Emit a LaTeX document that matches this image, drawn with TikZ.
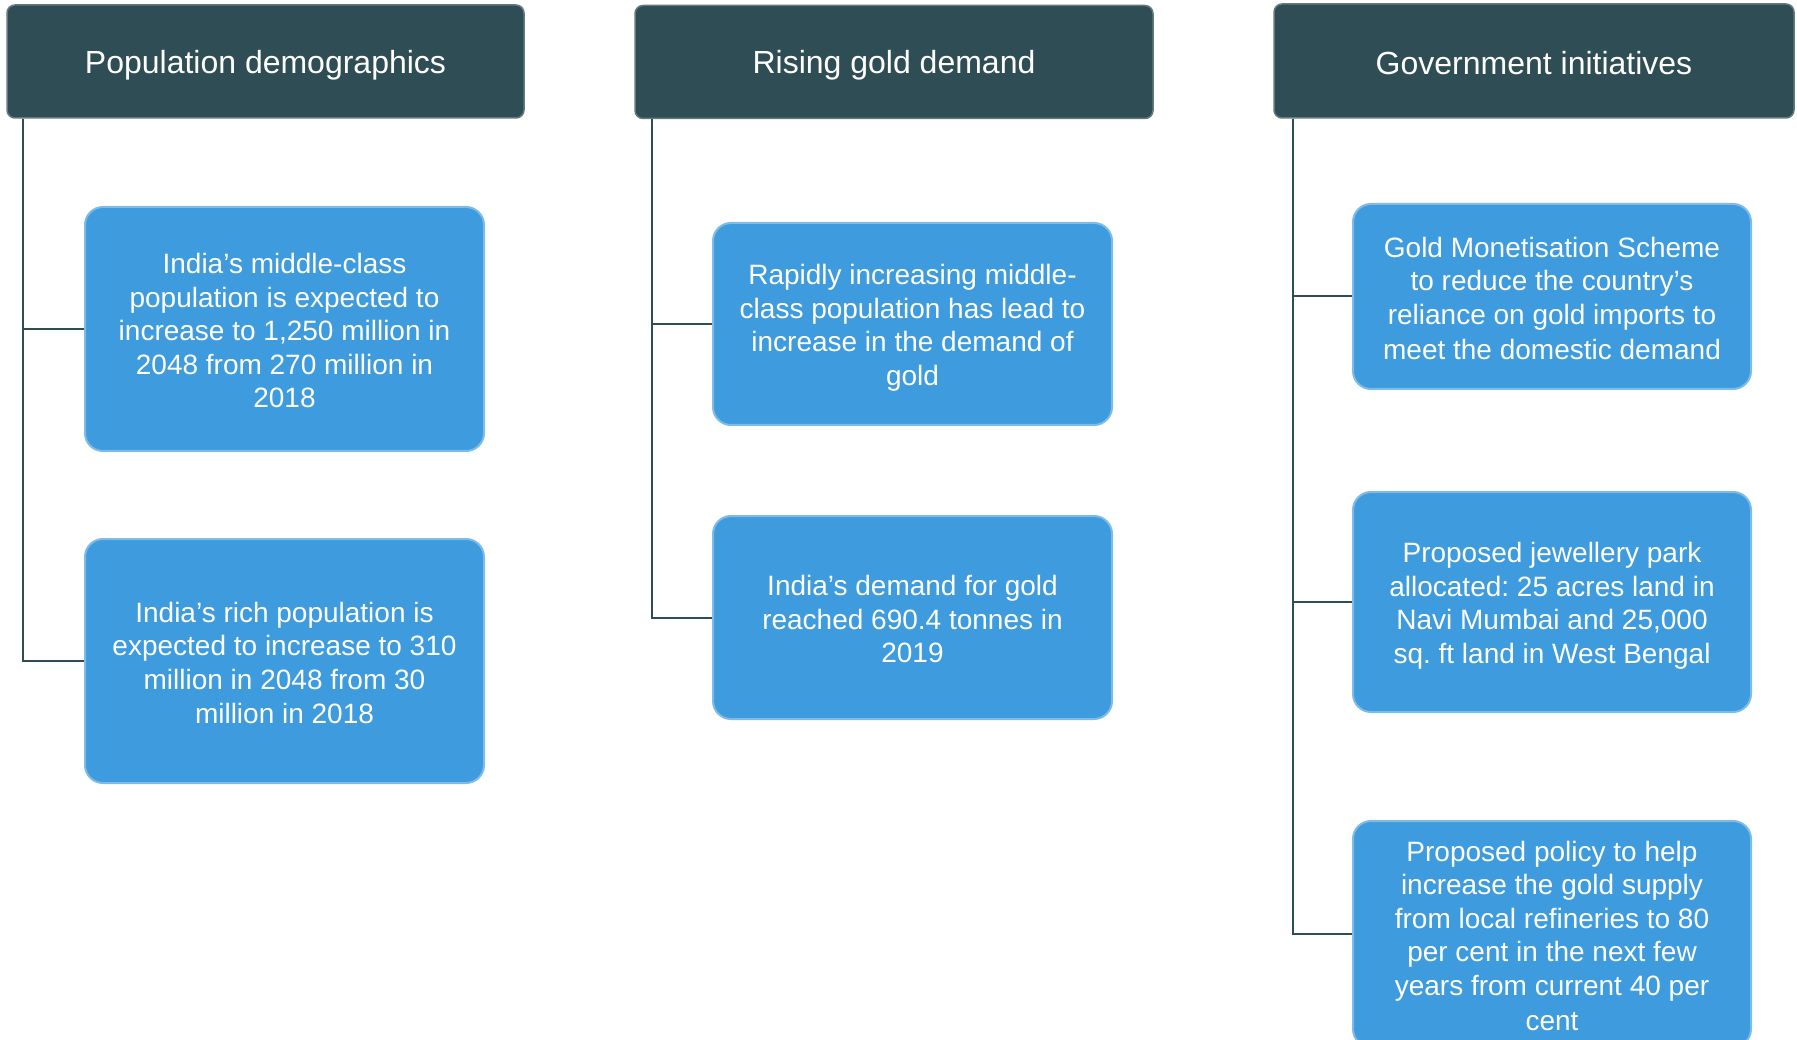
\documentclass[tikz,border=0pt]{standalone}
\usepackage{fontspec}
\setmainfont{Liberation Sans}
\frenchspacing
\definecolor{hdr}{HTML}{2F4D55}
\definecolor{hdrline}{HTML}{66797E}
\definecolor{boxblue}{HTML}{3D9BDE}
\definecolor{boxline}{HTML}{7DBBE9}
\definecolor{conn}{HTML}{2F4D55}
\newcommand\bs{\rule[-4.6pt]{0pt}{32.6pt}}
\newcommand\hs{\rule[-3.6pt]{0pt}{33.6pt}}
\begin{document}
\begin{tikzpicture}[x=1pt,y=-1pt,
  header/.style={draw=hdrline, line width=1.5pt, fill=hdr, rounded corners=8pt,
    text=white, font=\fontsize{32}{38}\selectfont\frenchspacing, inner sep=0pt, align=center},
  infobox/.style={draw=boxline, line width=2pt, fill=boxblue, rounded corners=18pt,
    text=white, font=\fontsize{28}{33.6}\selectfont\frenchspacing, inner sep=0pt, align=center},
  connector/.style={draw=conn, line width=2pt}]
\useasboundingbox (0,0) rectangle (1797,1040);
\fill[white] (0,0) rectangle (1797,1040);

% headers
\node[header, minimum width=517pt, minimum height=113pt] (h1) at (265.5,61.5) {\hs Population demographics};
\node[header, minimum width=518pt, minimum height=113pt] (h2) at (894,62) {\hs Rising gold demand};
\node[header, minimum width=520pt, minimum height=114pt] (h3) at (1534,61) {\hs Government initiatives};

% column 1
\node[infobox, minimum width=399pt, minimum height=244pt] (b1) at (284.5,329) {\bs India’s middle-class\\population is expected to\\increase to 1,250 million in\\2048 from 270 million in\\2018\bs};
\node[infobox, minimum width=399pt, minimum height=244pt] (b2) at (284.5,661) {\bs India’s rich population is\\expected to increase to 310\\million in 2048 from 30\\million in 2018\bs};

% column 2
\node[infobox, minimum width=399pt, minimum height=202pt] (b3) at (912.5,324) {\bs Rapidly increasing middle-\\class population has lead to\\increase in the demand of\\gold\bs};
\node[infobox, minimum width=399pt, minimum height=203pt] (b4) at (912.5,617.5) {\bs India’s demand for gold\\reached 690.4 tonnes in\\2019\bs};

% column 3
\node[infobox, minimum width=398pt, minimum height=185pt] (b5) at (1552,296.5) {\bs Gold Monetisation Scheme\\to reduce the country’s\\reliance on gold imports to\\meet the domestic demand\bs};
\node[infobox, minimum width=398pt, minimum height=220pt] (b6) at (1552,602) {\bs Proposed jewellery park\\allocated: 25 acres land in\\Navi Mumbai and 25,000\\sq. ft land in West Bengal\bs};
\node[infobox, minimum width=398pt, minimum height=226pt] (b7) at (1552,934) {\bs Proposed policy to help\\increase the gold supply\\from local refineries to 80\\per cent in the next few\\years from current 40 per\\cent\bs};

% connectors
\path[connector] ([xshift=17pt]h1.south west) |- (b1.west);
\path[connector] ([xshift=17pt]h1.south west) |- (b2.west);
\path[connector] ([xshift=18pt]h2.south west) |- (b3.west);
\path[connector] ([xshift=18pt]h2.south west) |- (b4.west);
\path[connector] ([xshift=20pt]h3.south west) |- (b5.west);
\path[connector] ([xshift=20pt]h3.south west) |- (b6.west);
\path[connector] ([xshift=20pt]h3.south west) |- (b7.west);
\end{tikzpicture}
\end{document}
